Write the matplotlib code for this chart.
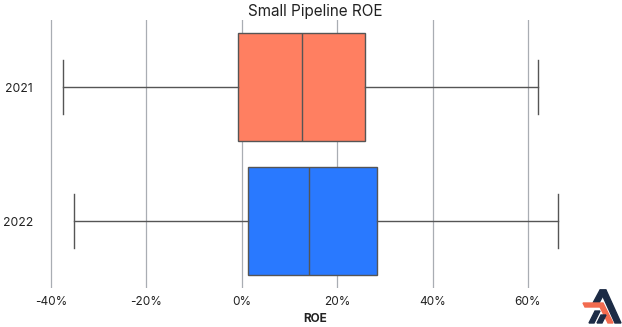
import matplotlib.pyplot as plt
from matplotlib.patches import Polygon

# Box stats (ROE, in %)
years = ['2021', '2022']
whis_lo = [-37.4, -35.1]
q1 = [-0.8, 1.3]
med = [12.6, 14.1]
q3 = [25.8, 28.4]
whis_hi = [62.2, 66.2]
colors = ['#FF7F61', '#2979FF']
ticks = [-40, -20, 0, 20, 40, 60]

plt.rcParams['font.family'] = ['Inter', 'DejaVu Sans']

W, H = 622, 327
fig = plt.figure(figsize=(W / 100, H / 100), dpi=100)
ax = fig.add_axes([40 / W, 1 - 288 / H, 550 / W, 268 / H])

stats = []
for i in range(len(years)):
    stats.append({'whislo': whis_lo[i], 'q1': q1[i], 'med': med[i],
                  'q3': q3[i], 'whishi': whis_hi[i], 'fliers': [], 'label': years[i]})

bp = ax.bxp(stats, positions=range(len(years)), vert=False, widths=0.8,
            patch_artist=True, showfliers=False, zorder=3,
            boxprops=dict(edgecolor='#555555', linewidth=1.0),
            medianprops=dict(color='#555555', linewidth=1.0),
            whiskerprops=dict(color='#555555', linewidth=1.0),
            capprops=dict(color='#555555', linewidth=1.0))
for patch, c in zip(bp['boxes'], colors):
    patch.set_facecolor(c)
# shorter caps
for cap in bp['caps']:
    y = cap.get_ydata()
    mid = (y[0] + y[1]) / 2
    cap.set_ydata([mid - 0.2, mid + 0.2])

ax.set_ylim(1.5, -0.5)
ax.set_xlim(-42.3, 73.0)
ax.set_xticks(ticks)
ax.set_xticklabels([f'{t}%' for t in ticks], fontsize=8.5, color='#222222')
ax.set_yticks(range(len(years)))
ax.set_yticklabels(years, fontsize=8.8, color='#222222')
ax.tick_params(axis='x', length=0, pad=6)
ax.tick_params(axis='y', length=0, pad=5)
ax.xaxis.grid(True, color='#a9adb3', linewidth=0.9, zorder=0)
ax.set_axisbelow(True)
for s in ax.spines.values():
    s.set_visible(False)
ax.set_xlabel('ROE', fontsize=8.5, fontweight='bold', color='#222222', labelpad=3)
ax.set_title('Small Pipeline ROE', fontsize=11, color='#222222', pad=3)


# small logo bottom-right (pixel coords -> figure coords)
def logo_part(pts, color):
    p = [[x / W, 1 - y / H] for x, y in pts]
    fig.patches.append(Polygon(p, closed=True, transform=fig.transFigure, color=color))


navy = '#1c2b45'
orange = '#f26b4f'
logo_part([(600, 290), (606, 290), (621, 323), (615, 323)], navy)
logo_part([(600, 290), (606, 290), (599, 303), (593, 303)], navy)
logo_part([(583, 303), (603, 303), (613, 323), (608, 323), (600, 307), (585, 307)], orange)
logo_part([(589, 323), (594, 323), (600, 311), (595, 311)], navy)
logo_part([(597, 323), (602, 323), (606, 315), (601, 315)], navy)

fig.savefig('out.png', dpi=100)
